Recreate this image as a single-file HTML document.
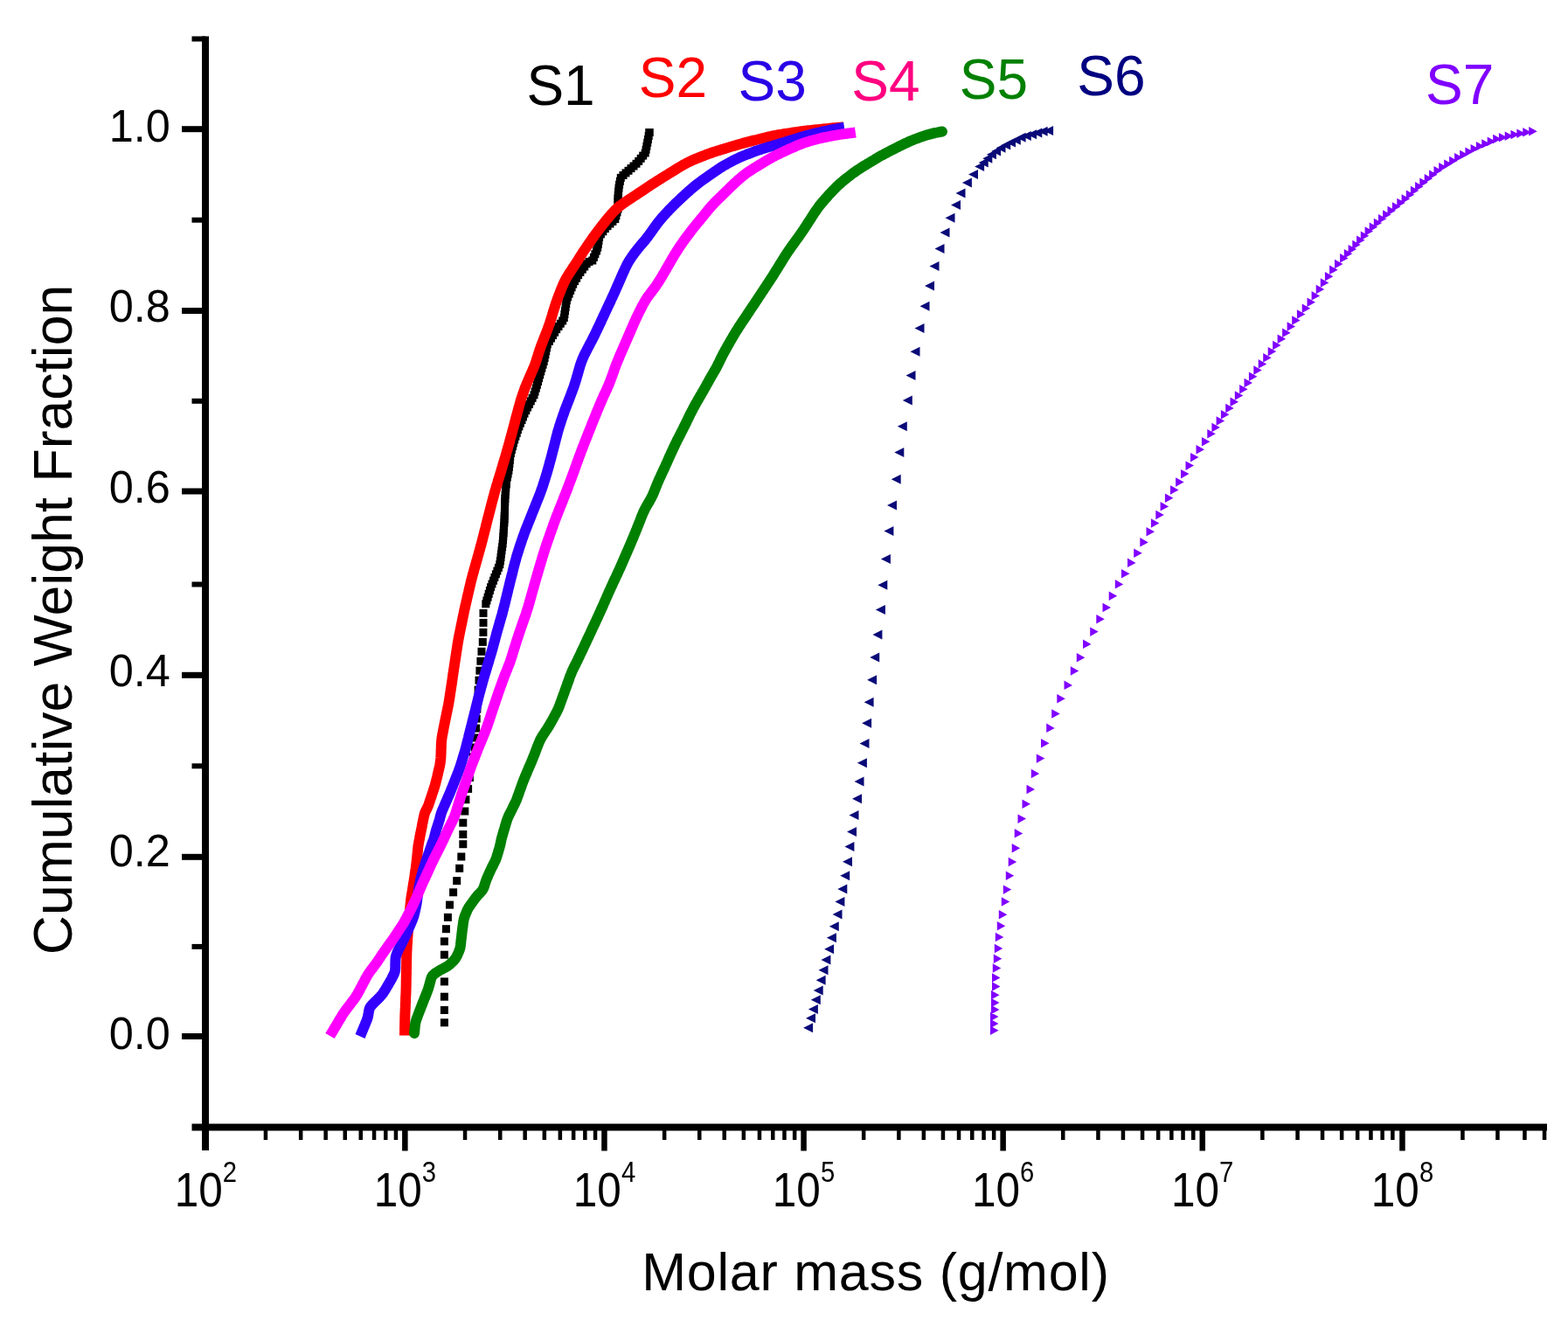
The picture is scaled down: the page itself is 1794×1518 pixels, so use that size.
<!DOCTYPE html>
<html><head><meta charset="utf-8"><title>Cumulative Weight Fraction vs Molar mass</title>
<style>html,body{margin:0;padding:0;background:#fff;}body{width:1794px;height:1518px;overflow:hidden;}svg{display:block;}</style>
</head><body>
<svg xmlns="http://www.w3.org/2000/svg" width="1794" height="1518" viewBox="0 0 1794 1518"><g fill="#000"><rect x="503.9" y="1165.3" width="9" height="9"/><rect x="503.9" y="1151.0" width="9" height="9"/><rect x="503.9" y="1135.7" width="9" height="9"/><rect x="503.9" y="1118.4" width="9" height="9"/><rect x="503.9" y="1103.0" width="9" height="9"/><rect x="503.9" y="1087.7" width="9" height="9"/><rect x="503.9" y="1072.4" width="9" height="9"/><rect x="505.9" y="1058.2" width="9" height="9"/><rect x="507.9" y="1044.9" width="9" height="9"/><rect x="510.0" y="1030.6" width="9" height="9"/><rect x="514.1" y="1016.3" width="9" height="9"/><rect x="518.2" y="1003.1" width="9" height="9"/><rect x="521.2" y="988.8" width="9" height="9"/><rect x="523.3" y="975.5" width="9" height="9"/><rect x="525.3" y="961.2" width="9" height="9"/><rect x="525.3" y="950.0" width="9" height="9"/><rect x="525.3" y="936.7" width="9" height="9"/><rect x="527.3" y="923.5" width="9" height="9"/><rect x="528.4" y="910.2" width="9" height="9"/><rect x="531.1" y="897.9" width="9" height="9"/><rect x="532.9" y="885.0" width="9" height="9"/><rect x="535.0" y="872.2" width="9" height="9"/><rect x="536.9" y="861.4" width="9" height="9"/><rect x="538.6" y="850.5" width="9" height="9"/><rect x="539.3" y="839.5" width="9" height="9"/><rect x="540.0" y="828.6" width="9" height="9"/><rect x="540.7" y="817.6" width="9" height="9"/><rect x="541.4" y="806.6" width="9" height="9"/><rect x="542.0" y="795.6" width="9" height="9"/><rect x="542.6" y="784.6" width="9" height="9"/><rect x="543.5" y="773.7" width="9" height="9"/><rect x="544.4" y="762.7" width="9" height="9"/><rect x="545.4" y="751.8" width="9" height="9"/><rect x="546.5" y="740.8" width="9" height="9"/><rect x="547.8" y="729.9" width="9" height="9"/><rect x="548.4" y="718.9" width="9" height="9"/><rect x="548.5" y="707.9" width="9" height="9"/><rect x="548.5" y="696.9" width="9" height="9"/><rect x="551.3" y="686.3" width="9" height="9"/><rect x="552.4" y="682.5" width="9" height="9"/><rect x="553.6" y="678.7" width="9" height="9"/><rect x="554.7" y="674.9" width="9" height="9"/><rect x="555.9" y="671.0" width="9" height="9"/><rect x="557.1" y="667.2" width="9" height="9"/><rect x="558.5" y="663.5" width="9" height="9"/><rect x="560.0" y="659.7" width="9" height="9"/><rect x="561.4" y="656.0" width="9" height="9"/><rect x="562.9" y="652.3" width="9" height="9"/><rect x="564.4" y="648.6" width="9" height="9"/><rect x="565.9" y="644.9" width="9" height="9"/><rect x="567.3" y="641.2" width="9" height="9"/><rect x="567.9" y="637.2" width="9" height="9"/><rect x="568.5" y="633.2" width="9" height="9"/><rect x="569.0" y="629.3" width="9" height="9"/><rect x="569.5" y="625.3" width="9" height="9"/><rect x="570.1" y="621.3" width="9" height="9"/><rect x="570.6" y="617.4" width="9" height="9"/><rect x="571.0" y="613.4" width="9" height="9"/><rect x="571.3" y="609.4" width="9" height="9"/><rect x="571.6" y="605.4" width="9" height="9"/><rect x="571.8" y="601.4" width="9" height="9"/><rect x="572.1" y="597.4" width="9" height="9"/><rect x="572.4" y="593.5" width="9" height="9"/><rect x="572.6" y="589.5" width="9" height="9"/><rect x="572.7" y="585.5" width="9" height="9"/><rect x="572.9" y="581.5" width="9" height="9"/><rect x="573.0" y="577.5" width="9" height="9"/><rect x="573.1" y="573.5" width="9" height="9"/><rect x="573.2" y="569.5" width="9" height="9"/><rect x="573.4" y="565.5" width="9" height="9"/><rect x="573.6" y="561.5" width="9" height="9"/><rect x="574.0" y="557.5" width="9" height="9"/><rect x="574.3" y="553.5" width="9" height="9"/><rect x="574.7" y="549.5" width="9" height="9"/><rect x="575.0" y="545.5" width="9" height="9"/><rect x="575.8" y="541.6" width="9" height="9"/><rect x="576.6" y="537.7" width="9" height="9"/><rect x="577.4" y="533.8" width="9" height="9"/><rect x="577.9" y="529.8" width="9" height="9"/><rect x="578.4" y="525.8" width="9" height="9"/><rect x="578.8" y="521.9" width="9" height="9"/><rect x="579.2" y="517.9" width="9" height="9"/><rect x="579.9" y="514.0" width="9" height="9"/><rect x="580.9" y="510.1" width="9" height="9"/><rect x="582.0" y="506.2" width="9" height="9"/><rect x="583.0" y="502.4" width="9" height="9"/><rect x="584.2" y="498.5" width="9" height="9"/><rect x="585.4" y="494.7" width="9" height="9"/><rect x="586.7" y="491.0" width="9" height="9"/><rect x="587.9" y="487.2" width="9" height="9"/><rect x="589.4" y="483.4" width="9" height="9"/><rect x="590.9" y="479.7" width="9" height="9"/><rect x="592.5" y="476.0" width="9" height="9"/><rect x="594.0" y="472.4" width="9" height="9"/><rect x="595.5" y="468.7" width="9" height="9"/><rect x="597.3" y="465.1" width="9" height="9"/><rect x="599.1" y="461.5" width="9" height="9"/><rect x="601.0" y="458.0" width="9" height="9"/><rect x="602.8" y="454.4" width="9" height="9"/><rect x="604.6" y="450.9" width="9" height="9"/><rect x="606.5" y="447.3" width="9" height="9"/><rect x="607.6" y="443.5" width="9" height="9"/><rect x="608.8" y="439.6" width="9" height="9"/><rect x="609.9" y="435.8" width="9" height="9"/><rect x="611.0" y="432.0" width="9" height="9"/><rect x="612.1" y="428.1" width="9" height="9"/><rect x="613.2" y="424.3" width="9" height="9"/><rect x="614.3" y="420.4" width="9" height="9"/><rect x="615.4" y="416.6" width="9" height="9"/><rect x="616.6" y="412.7" width="9" height="9"/><rect x="617.7" y="408.9" width="9" height="9"/><rect x="618.6" y="405.0" width="9" height="9"/><rect x="619.4" y="401.1" width="9" height="9"/><rect x="620.2" y="397.2" width="9" height="9"/><rect x="621.0" y="393.3" width="9" height="9"/><rect x="621.8" y="389.4" width="9" height="9"/><rect x="623.9" y="385.9" width="9" height="9"/><rect x="626.0" y="382.5" width="9" height="9"/><rect x="628.0" y="379.1" width="9" height="9"/><rect x="630.1" y="375.7" width="9" height="9"/><rect x="632.2" y="372.2" width="9" height="9"/><rect x="634.5" y="369.0" width="9" height="9"/><rect x="636.8" y="365.7" width="9" height="9"/><rect x="639.2" y="362.5" width="9" height="9"/><rect x="640.8" y="359.0" width="9" height="9"/><rect x="641.4" y="355.0" width="9" height="9"/><rect x="642.0" y="351.1" width="9" height="9"/><rect x="642.6" y="347.1" width="9" height="9"/><rect x="643.2" y="343.2" width="9" height="9"/><rect x="643.8" y="339.2" width="9" height="9"/><rect x="645.1" y="335.4" width="9" height="9"/><rect x="646.6" y="331.7" width="9" height="9"/><rect x="648.1" y="328.0" width="9" height="9"/><rect x="649.6" y="324.3" width="9" height="9"/><rect x="651.2" y="320.6" width="9" height="9"/><rect x="653.1" y="317.1" width="9" height="9"/><rect x="655.1" y="313.7" width="9" height="9"/><rect x="657.1" y="310.2" width="9" height="9"/><rect x="659.4" y="306.9" width="9" height="9"/><rect x="661.8" y="303.7" width="9" height="9"/><rect x="664.2" y="300.5" width="9" height="9"/><rect x="666.6" y="297.3" width="9" height="9"/><rect x="669.5" y="294.9" width="9" height="9"/><rect x="673.3" y="293.5" width="9" height="9"/><rect x="674.9" y="289.9" width="9" height="9"/><rect x="676.4" y="286.2" width="9" height="9"/><rect x="678.0" y="282.5" width="9" height="9"/><rect x="679.2" y="278.7" width="9" height="9"/><rect x="679.8" y="274.8" width="9" height="9"/><rect x="680.5" y="270.8" width="9" height="9"/><rect x="681.1" y="266.9" width="9" height="9"/><rect x="682.9" y="263.4" width="9" height="9"/><rect x="685.3" y="260.3" width="9" height="9"/><rect x="687.8" y="257.1" width="9" height="9"/><rect x="690.5" y="254.2" width="9" height="9"/><rect x="693.5" y="251.5" width="9" height="9"/><rect x="696.4" y="248.9" width="9" height="9"/><rect x="699.3" y="246.1" width="9" height="9"/><rect x="700.4" y="242.3" width="9" height="9"/><rect x="701.5" y="238.4" width="9" height="9"/><rect x="702.5" y="234.6" width="9" height="9"/><rect x="702.5" y="230.6" width="9" height="9"/><rect x="702.5" y="226.6" width="9" height="9"/><rect x="702.5" y="222.6" width="9" height="9"/><rect x="702.7" y="218.6" width="9" height="9"/><rect x="703.1" y="214.6" width="9" height="9"/><rect x="703.5" y="210.6" width="9" height="9"/><rect x="704.1" y="206.7" width="9" height="9"/><rect x="704.9" y="202.8" width="9" height="9"/><rect x="705.8" y="198.9" width="9" height="9"/><rect x="708.5" y="196.0" width="9" height="9"/><rect x="711.5" y="193.4" width="9" height="9"/><rect x="714.5" y="190.8" width="9" height="9"/><rect x="717.5" y="188.1" width="9" height="9"/><rect x="720.5" y="185.5" width="9" height="9"/><rect x="723.5" y="182.8" width="9" height="9"/><rect x="726.2" y="179.9" width="9" height="9"/><rect x="728.7" y="176.8" width="9" height="9"/><rect x="731.2" y="173.6" width="9" height="9"/><rect x="733.7" y="170.5" width="9" height="9"/><rect x="734.6" y="166.7" width="9" height="9"/><rect x="735.4" y="162.7" width="9" height="9"/><rect x="736.2" y="158.8" width="9" height="9"/><rect x="736.9" y="154.9" width="9" height="9"/><rect x="737.7" y="151.0" width="9" height="9"/><rect x="738.5" y="147.0" width="9" height="9"/><rect x="738.5" y="147.0" width="9" height="9"/></g><polyline points="463.0,1184.5 463.0,1182.5 463.1,1180.5 463.1,1178.5 463.1,1176.5 463.1,1174.5 463.2,1172.5 463.2,1170.5 463.2,1168.5 463.3,1166.5 463.3,1164.5 463.4,1162.5 463.4,1160.5 463.5,1158.5 463.6,1156.5 463.7,1154.5 463.8,1152.5 463.8,1150.5 463.9,1148.5 464.0,1146.5 464.1,1144.5 464.1,1142.5 464.2,1140.5 464.3,1138.5 464.4,1136.5 464.5,1134.5 464.5,1132.5 464.6,1130.5 464.6,1128.5 464.7,1126.5 464.7,1124.5 464.7,1122.5 464.8,1120.5 464.8,1118.5 464.8,1116.5 464.9,1114.5 464.9,1112.5 464.9,1110.5 465.0,1108.5 465.0,1106.5 465.1,1104.5 465.1,1102.5 465.1,1100.5 465.2,1098.5 465.2,1096.5 465.2,1094.5 465.3,1092.5 465.3,1090.5 465.4,1088.5 465.5,1086.5 465.6,1084.5 465.7,1082.5 465.8,1080.5 466.0,1078.6 466.1,1076.6 466.2,1074.6 466.3,1072.6 466.5,1070.6 466.6,1068.6 466.8,1066.6 467.0,1064.6 467.1,1062.6 467.3,1060.6 467.5,1058.6 467.7,1056.6 467.8,1054.6 468.0,1052.6 468.2,1050.6 468.4,1048.7 468.5,1046.7 468.7,1044.7 468.9,1042.7 469.1,1040.7 469.2,1038.7 469.4,1036.7 469.6,1034.7 469.8,1032.7 470.0,1030.7 470.2,1028.7 470.5,1026.8 470.8,1024.8 471.1,1022.8 471.5,1020.8 471.8,1018.9 472.1,1016.9 472.4,1014.9 472.7,1012.9 473.0,1011.0 473.4,1009.0 473.7,1007.0 474.0,1005.0 474.3,1003.1 474.6,1001.1 474.8,999.1 475.1,997.1 475.4,995.1 475.7,993.2 475.9,991.2 476.2,989.2 476.5,987.2 476.7,985.2 476.9,983.2 477.1,981.2 477.3,979.3 477.5,977.3 477.7,975.3 477.9,973.3 478.1,971.3 478.3,969.3 478.5,967.3 478.9,965.4 479.2,963.4 479.6,961.4 480.0,959.5 480.3,957.5 480.7,955.5 481.1,953.6 481.5,951.6 481.9,949.6 482.3,947.7 482.7,945.7 483.0,943.8 483.4,941.8 483.8,939.8 484.2,937.9 484.6,935.9 485.0,934.0 485.5,932.0 486.0,930.1 486.8,928.3 487.7,926.5 488.6,924.7 489.4,922.9 490.2,921.1 490.8,919.2 491.5,917.3 492.1,915.4 492.7,913.5 493.4,911.6 494.0,909.7 494.6,907.8 495.3,905.9 495.9,904.0 496.5,902.1 497.1,900.2 497.7,898.3 498.2,896.4 498.7,894.4 499.2,892.5 499.7,890.5 500.2,888.6 500.6,886.7 501.1,884.7 501.5,882.8 502.0,880.8 502.4,878.9 502.9,876.9 503.3,875.0 503.6,873.0 503.9,871.0 504.1,869.0 504.3,867.1 504.4,865.1 504.5,863.1 504.6,861.1 504.6,859.1 504.7,857.1 504.8,855.1 504.8,853.1 504.9,851.1 505.0,849.1 505.2,847.1 505.4,845.1 505.7,843.1 506.0,841.2 506.4,839.2 506.8,837.2 507.2,835.3 507.5,833.3 507.9,831.4 508.3,829.4 508.7,827.4 509.1,825.5 509.5,823.5 509.9,821.6 510.3,819.6 510.7,817.6 511.1,815.7 511.5,813.7 511.9,811.8 512.3,809.8 512.7,807.8 513.1,805.9 513.4,803.9 513.8,801.9 514.1,800.0 514.4,798.0 514.7,796.0 515.0,794.0 515.3,792.1 515.6,790.1 515.9,788.1 516.2,786.1 516.5,784.1 516.8,782.2 517.1,780.2 517.4,778.2 517.7,776.2 517.9,774.2 518.2,772.3 518.5,770.3 518.8,768.3 519.1,766.3 519.4,764.4 519.7,762.4 520.0,760.4 520.3,758.4 520.6,756.4 520.9,754.5 521.2,752.5 521.5,750.5 521.8,748.5 522.1,746.6 522.4,744.6 522.7,742.6 523.0,740.6 523.3,738.6 523.6,736.7 523.9,734.7 524.3,732.7 524.6,730.8 525.0,728.8 525.4,726.8 525.8,724.9 526.2,722.9 526.6,721.0 527.0,719.0 527.4,717.0 527.8,715.1 528.2,713.1 528.6,711.2 529.0,709.2 529.4,707.2 529.8,705.3 530.2,703.3 530.6,701.4 531.0,699.4 531.4,697.5 531.9,695.5 532.3,693.6 532.7,691.6 533.2,689.7 533.6,687.7 534.1,685.8 534.5,683.8 535.0,681.9 535.4,679.9 535.9,678.0 536.3,676.0 536.8,674.1 537.2,672.1 537.7,670.2 538.2,668.2 538.6,666.3 539.1,664.3 539.6,662.4 540.1,660.5 540.6,658.5 541.1,656.6 541.7,654.7 542.2,652.7 542.7,650.8 543.3,648.9 543.8,647.0 544.4,645.0 544.9,643.1 545.4,641.2 546.0,639.3 546.5,637.3 547.1,635.4 547.6,633.5 548.1,631.6 548.7,629.6 549.2,627.7 549.7,625.8 550.3,623.8 550.8,621.9 551.3,620.0 551.8,618.1 552.3,616.1 552.8,614.2 553.3,612.2 553.8,610.3 554.3,608.4 554.8,606.4 555.3,604.5 555.8,602.5 556.2,600.6 556.7,598.7 557.2,596.7 557.7,594.8 558.2,592.8 558.7,590.9 559.2,589.0 559.7,587.0 560.2,585.1 560.7,583.2 561.2,581.2 561.7,579.3 562.2,577.4 562.7,575.4 563.2,573.5 563.7,571.6 564.2,569.6 564.8,567.7 565.3,565.8 565.8,563.8 566.3,561.9 566.9,560.0 567.5,558.1 568.0,556.1 568.6,554.2 569.2,552.3 569.7,550.4 570.3,548.5 570.9,546.6 571.5,544.7 572.1,542.8 572.7,540.8 573.3,538.9 573.8,537.0 574.4,535.1 575.0,533.2 575.5,531.3 576.1,529.3 576.7,527.4 577.2,525.5 577.8,523.6 578.4,521.7 578.9,519.7 579.5,517.8 580.0,515.9 580.6,514.0 581.1,512.1 581.7,510.1 582.2,508.2 582.8,506.3 583.3,504.4 583.8,502.4 584.3,500.5 584.9,498.6 585.4,496.6 585.9,494.7 586.4,492.8 586.9,490.8 587.5,488.9 588.0,487.0 588.5,485.0 589.0,483.1 589.5,481.2 590.0,479.2 590.5,477.3 591.1,475.4 591.6,473.4 592.1,471.5 592.6,469.6 593.1,467.6 593.6,465.7 594.2,463.8 594.7,461.9 595.3,459.9 595.8,458.0 596.4,456.1 597.0,454.2 597.7,452.3 598.3,450.4 599.0,448.5 599.6,446.7 600.3,444.8 601.0,442.9 601.8,441.1 602.5,439.2 603.3,437.4 604.1,435.5 604.9,433.7 605.7,431.9 606.5,430.0 607.3,428.2 608.1,426.4 608.9,424.6 609.7,422.7 610.5,420.9 611.3,419.0 612.0,417.2 612.7,415.3 613.3,413.4 613.9,411.5 614.5,409.6 615.1,407.7 615.7,405.8 616.3,403.9 616.9,402.0 617.5,400.1 618.2,398.2 618.9,396.3 619.5,394.5 620.3,392.6 621.0,390.7 621.7,388.9 622.4,387.0 623.2,385.1 623.9,383.3 624.7,381.4 625.4,379.6 626.1,377.7 626.8,375.8 627.5,373.9 628.1,372.1 628.8,370.2 629.4,368.3 630.0,366.4 630.6,364.5 631.2,362.6 631.8,360.6 632.3,358.7 632.9,356.8 633.5,354.9 634.1,353.0 634.7,351.1 635.3,349.2 635.9,347.3 636.6,345.4 637.3,343.5 637.9,341.6 638.6,339.8 639.3,337.9 640.1,336.0 640.8,334.2 641.5,332.3 642.3,330.4 643.0,328.6 643.8,326.8 644.6,324.9 645.4,323.1 646.3,321.3 647.2,319.6 648.2,317.9 649.2,316.1 650.3,314.4 651.3,312.8 652.4,311.1 653.5,309.4 654.6,307.8 655.7,306.1 656.8,304.4 657.9,302.7 659.0,301.1 660.1,299.4 661.2,297.7 662.2,296.0 663.3,294.3 664.4,292.6 665.5,290.9 666.5,289.3 667.6,287.6 668.7,285.9 669.8,284.3 671.0,282.6 672.1,280.9 673.2,279.3 674.4,277.7 675.5,276.0 676.7,274.4 677.8,272.7 679.0,271.1 680.1,269.5 681.3,267.9 682.5,266.3 683.7,264.7 684.9,263.1 686.1,261.5 687.3,259.9 688.6,258.3 689.8,256.8 691.0,255.2 692.3,253.6 693.5,252.1 694.8,250.5 696.1,249.0 697.4,247.4 698.7,245.9 700.0,244.4 701.3,243.0 702.7,241.5 704.1,240.1 705.5,238.7 707.0,237.4 708.5,236.1 710.1,234.9 711.7,233.7 713.3,232.6 714.9,231.4 716.6,230.3 718.2,229.2 719.9,228.1 721.6,227.0 723.3,225.9 724.9,224.8 726.6,223.7 728.3,222.6 729.9,221.5 731.6,220.4 733.3,219.3 734.9,218.2 736.6,217.1 738.2,216.0 739.9,214.8 741.6,213.7 743.2,212.6 744.9,211.5 746.6,210.4 748.3,209.4 750.0,208.3 751.6,207.2 753.3,206.1 755.0,205.1 756.7,204.0 758.4,202.9 760.1,201.9 761.8,200.8 763.5,199.8 765.2,198.7 766.9,197.7 768.6,196.6 770.3,195.6 772.0,194.5 773.7,193.5 775.4,192.4 777.1,191.4 778.8,190.4 780.6,189.3 782.3,188.4 784.0,187.4 785.8,186.4 787.6,185.5 789.4,184.7 791.2,183.8 793.0,183.0 794.8,182.2 796.7,181.5 798.5,180.7 800.4,180.0 802.2,179.2 804.1,178.5 806.0,177.8 807.8,177.0 809.7,176.3 811.6,175.7 813.5,175.0 815.3,174.3 817.2,173.7 819.1,173.1 821.0,172.5 823.0,171.9 824.9,171.3 826.8,170.7 828.7,170.1 830.6,169.6 832.5,169.0 834.4,168.4 836.4,167.8 838.3,167.3 840.2,166.7 842.1,166.1 844.0,165.6 845.9,165.0 847.9,164.5 849.8,163.9 851.7,163.4 853.7,162.9 855.6,162.4 857.5,161.9 859.5,161.4 861.4,160.9 863.4,160.4 865.3,160.0 867.2,159.5 869.2,159.0 871.1,158.5 873.1,158.0 875.0,157.5 876.9,157.1 878.9,156.6 880.8,156.2 882.8,155.7 884.7,155.3 886.7,155.0 888.7,154.6 890.6,154.2 892.6,153.9 894.6,153.6 896.6,153.3 898.5,153.0 900.5,152.7 902.5,152.4 904.5,152.1 906.4,151.8 908.4,151.5 910.4,151.2 912.4,150.9 914.4,150.6 916.3,150.3 918.3,150.1 920.3,149.8 922.3,149.6 924.3,149.3 926.3,149.1 928.2,148.9 930.2,148.7 932.2,148.5 934.2,148.3 936.2,148.1 938.2,147.9 940.2,147.7 942.2,147.5 944.2,147.3 946.2,147.1 948.1,146.9 950.1,146.7 952.1,146.5 954.1,146.3 956.1,146.2 958.0,146.0 960.0,145.8 961.9,145.6 963.7,145.4 965.0,145.3" fill="none" stroke="#ff0000" stroke-width="12" stroke-linejoin="round" stroke-linecap="butt"/><polyline points="412.0,1185.5 412.8,1183.7 413.5,1181.8 414.3,1180.0 415.1,1178.1 415.8,1176.3 416.6,1174.4 417.4,1172.6 418.1,1170.7 418.9,1168.9 419.7,1167.0 420.3,1165.2 420.9,1163.2 421.3,1161.3 421.6,1159.3 421.9,1157.4 422.3,1155.4 422.8,1153.6 423.7,1151.9 424.9,1150.3 426.2,1148.9 427.6,1147.5 429.0,1146.1 430.4,1144.7 431.9,1143.2 433.3,1141.8 434.7,1140.4 436.0,1138.9 437.3,1137.4 438.5,1135.8 439.5,1134.1 440.6,1132.4 441.6,1130.7 442.6,1129.0 443.7,1127.3 444.7,1125.5 445.7,1123.8 446.7,1122.1 447.7,1120.3 448.6,1118.6 449.5,1116.8 450.4,1115.0 451.2,1113.2 451.8,1111.3 452.1,1109.4 452.3,1107.4 452.3,1105.4 452.3,1103.4 452.4,1101.4 452.4,1099.4 452.5,1097.4 452.7,1095.5 453.1,1093.5 453.7,1091.6 454.4,1089.8 455.3,1088.0 456.1,1086.2 457.0,1084.4 457.9,1082.6 458.9,1080.8 459.8,1079.0 460.7,1077.3 461.5,1075.5 462.4,1073.7 463.2,1071.8 464.1,1070.0 464.9,1068.2 465.7,1066.4 466.6,1064.6 467.4,1062.7 468.2,1060.9 469.0,1059.1 469.8,1057.2 470.6,1055.4 471.3,1053.6 472.1,1051.7 472.8,1049.8 473.4,1047.9 473.9,1046.0 474.4,1044.1 474.8,1042.1 475.3,1040.2 475.7,1038.2 476.1,1036.3 476.5,1034.3 476.8,1032.3 477.1,1030.3 477.3,1028.4 477.6,1026.4 477.9,1024.4 478.1,1022.4 478.4,1020.4 478.8,1018.5 479.1,1016.5 479.5,1014.5 479.9,1012.6 480.3,1010.6 480.7,1008.6 481.0,1006.7 481.5,1004.7 482.0,1002.8 482.5,1000.9 483.1,999.0 483.6,997.0 484.2,995.1 484.8,993.2 485.4,991.3 486.1,989.4 486.7,987.5 487.3,985.6 488.0,983.7 488.6,981.8 489.2,979.9 489.9,978.0 490.5,976.1 491.2,974.2 491.8,972.4 492.4,970.5 493.1,968.6 493.7,966.7 494.4,964.8 495.2,962.9 495.9,961.1 496.5,959.2 497.1,957.3 497.5,955.4 498.0,953.4 498.5,951.5 499.0,949.6 499.6,947.6 500.3,945.7 500.9,943.8 501.5,941.9 502.1,940.0 502.7,938.1 503.2,936.2 503.7,934.3 504.3,932.3 504.8,930.4 505.5,928.5 506.2,926.7 507.0,924.9 507.8,923.0 508.6,921.2 509.4,919.3 510.2,917.5 511.0,915.7 511.8,913.8 512.6,912.0 513.4,910.2 514.2,908.3 515.0,906.5 515.7,904.6 516.5,902.8 517.2,900.9 518.0,899.1 518.7,897.2 519.4,895.4 520.2,893.5 520.9,891.6 521.7,889.8 522.4,887.9 523.1,886.1 523.9,884.2 524.6,882.3 525.3,880.5 525.9,878.6 526.6,876.7 527.2,874.8 527.8,872.9 528.4,871.0 529.0,869.1 529.5,867.1 530.1,865.2 530.7,863.3 531.3,861.4 531.9,859.5 532.4,857.6 532.9,855.6 533.4,853.7 533.9,851.8 534.4,849.8 534.9,847.9 535.4,845.9 535.9,844.0 536.3,842.1 536.8,840.1 537.3,838.2 537.8,836.2 538.3,834.3 538.8,832.4 539.3,830.4 539.8,828.5 540.3,826.5 540.7,824.6 541.2,822.7 541.7,820.7 542.2,818.8 542.7,816.8 543.2,814.9 543.7,813.0 544.2,811.0 544.6,809.1 545.1,807.1 545.6,805.2 546.1,803.3 546.6,801.3 547.0,799.4 547.5,797.4 548.0,795.5 548.5,793.6 549.1,791.6 549.6,789.7 550.1,787.8 550.6,785.8 551.2,783.9 551.7,782.0 552.2,780.1 552.8,778.1 553.3,776.2 553.9,774.3 554.4,772.4 555.0,770.5 555.6,768.6 556.2,766.6 556.8,764.7 557.3,762.8 557.9,760.9 558.5,759.0 559.1,757.1 559.6,755.1 560.2,753.2 560.8,751.3 561.3,749.4 561.9,747.5 562.5,745.6 563.0,743.6 563.6,741.7 564.1,739.8 564.6,737.9 565.1,735.9 565.7,734.0 566.2,732.1 566.7,730.1 567.2,728.2 567.7,726.3 568.3,724.3 568.8,722.4 569.3,720.5 569.9,718.6 570.4,716.6 571.0,714.7 571.5,712.8 572.1,710.9 572.6,708.9 573.2,707.0 573.7,705.1 574.3,703.2 574.8,701.2 575.3,699.3 575.8,697.4 576.3,695.4 576.8,693.5 577.3,691.6 577.8,689.6 578.2,687.7 578.7,685.7 579.2,683.8 579.7,681.8 580.1,679.9 580.6,678.0 581.1,676.0 581.5,674.1 582.0,672.1 582.5,670.2 583.0,668.2 583.4,666.3 583.9,664.4 584.4,662.4 584.9,660.5 585.4,658.5 585.9,656.6 586.4,654.7 586.8,652.7 587.3,650.8 587.8,648.8 588.3,646.9 588.8,645.0 589.3,643.0 589.9,641.1 590.4,639.2 590.9,637.3 591.5,635.3 592.1,633.4 592.7,631.5 593.3,629.6 593.9,627.7 594.5,625.8 595.1,623.9 595.8,622.0 596.4,620.1 597.0,618.2 597.7,616.3 598.4,614.4 599.0,612.6 599.7,610.7 600.4,608.8 601.1,606.9 601.8,605.1 602.6,603.2 603.3,601.4 604.0,599.5 604.8,597.6 605.5,595.8 606.3,593.9 607.0,592.1 607.8,590.2 608.5,588.4 609.2,586.5 610.0,584.6 610.7,582.8 611.5,580.9 612.2,579.1 613.0,577.2 613.7,575.4 614.4,573.5 615.2,571.6 615.9,569.8 616.7,567.9 617.4,566.1 618.1,564.2 618.8,562.3 619.5,560.4 620.1,558.6 620.8,556.7 621.4,554.8 622.0,552.9 622.6,551.0 623.2,549.1 623.8,547.1 624.4,545.2 625.0,543.3 625.6,541.4 626.1,539.5 626.7,537.6 627.2,535.6 627.8,533.7 628.3,531.8 628.8,529.9 629.3,527.9 629.9,526.0 630.4,524.1 630.9,522.1 631.4,520.2 631.9,518.3 632.4,516.3 632.9,514.4 633.4,512.5 633.9,510.5 634.4,508.6 634.9,506.6 635.4,504.7 635.9,502.8 636.4,500.8 636.9,498.9 637.4,497.0 637.9,495.0 638.4,493.1 639.0,491.2 639.6,489.3 640.1,487.4 640.8,485.4 641.4,483.5 642.0,481.6 642.6,479.8 643.3,477.9 643.9,476.0 644.6,474.1 645.3,472.2 645.9,470.3 646.6,468.4 647.3,466.6 648.1,464.7 648.8,462.8 649.5,461.0 650.2,459.1 651.0,457.3 651.7,455.4 652.4,453.5 653.1,451.7 653.8,449.8 654.5,447.9 655.2,446.0 655.9,444.2 656.6,442.3 657.2,440.4 657.8,438.5 658.4,436.6 659.0,434.7 659.6,432.7 660.1,430.8 660.7,428.9 661.2,427.0 661.8,425.1 662.3,423.1 662.9,421.2 663.4,419.3 664.0,417.4 664.7,415.5 665.3,413.6 666.0,411.8 666.8,409.9 667.6,408.1 668.4,406.3 669.3,404.5 670.2,402.7 671.1,401.0 672.0,399.2 673.0,397.4 673.9,395.6 674.8,393.9 675.7,392.1 676.7,390.3 677.6,388.6 678.5,386.8 679.4,385.0 680.3,383.2 681.2,381.4 682.0,379.6 682.9,377.8 683.7,376.0 684.6,374.2 685.5,372.4 686.3,370.6 687.2,368.8 688.0,366.9 688.8,365.1 689.7,363.3 690.5,361.5 691.4,359.7 692.2,357.9 693.1,356.1 693.9,354.3 694.8,352.4 695.6,350.6 696.5,348.8 697.3,347.0 698.2,345.2 699.0,343.4 699.8,341.6 700.7,339.8 701.5,337.9 702.4,336.1 703.2,334.3 704.0,332.5 704.8,330.6 705.6,328.8 706.4,327.0 707.2,325.2 708.0,323.3 708.8,321.5 709.6,319.7 710.4,317.8 711.2,316.0 712.0,314.2 712.8,312.3 713.7,310.5 714.5,308.7 715.3,306.9 716.2,305.1 717.1,303.3 718.0,301.5 719.0,299.8 720.0,298.1 721.1,296.4 722.2,294.8 723.3,293.1 724.5,291.5 725.6,289.9 726.8,288.3 728.1,286.7 729.3,285.1 730.6,283.6 731.8,282.1 733.1,280.5 734.4,279.0 735.7,277.5 737.0,276.0 738.3,274.5 739.5,272.9 740.8,271.3 742.0,269.7 743.1,268.1 744.3,266.5 745.4,264.9 746.6,263.2 747.7,261.6 748.9,260.0 750.1,258.3 751.3,256.7 752.5,255.1 753.7,253.6 755.0,252.0 756.2,250.5 757.5,249.0 758.8,247.5 760.2,246.0 761.5,244.5 762.9,243.0 764.2,241.6 765.6,240.1 767.0,238.7 768.4,237.3 769.8,235.8 771.2,234.4 772.7,233.0 774.1,231.6 775.5,230.3 777.0,228.9 778.4,227.5 779.9,226.1 781.4,224.8 782.9,223.4 784.3,222.1 785.8,220.8 787.3,219.4 788.8,218.1 790.3,216.8 791.8,215.5 793.4,214.2 794.9,212.9 796.4,211.6 798.0,210.4 799.6,209.2 801.2,208.0 802.8,206.8 804.4,205.6 806.0,204.5 807.7,203.3 809.3,202.2 810.9,201.0 812.6,199.9 814.2,198.8 815.9,197.6 817.5,196.5 819.2,195.3 820.8,194.2 822.5,193.1 824.1,192.0 825.8,191.0 827.5,189.9 829.2,188.9 831.0,187.9 832.7,187.0 834.5,186.0 836.3,185.1 838.0,184.1 839.8,183.2 841.6,182.3 843.4,181.5 845.2,180.6 847.0,179.8 848.8,179.0 850.7,178.2 852.5,177.5 854.4,176.7 856.3,176.0 858.1,175.3 860.0,174.6 861.9,173.9 863.7,173.2 865.6,172.5 867.5,171.9 869.4,171.3 871.3,170.6 873.2,170.0 875.1,169.5 877.0,168.9 879.0,168.3 880.9,167.7 882.8,167.2 884.7,166.6 886.6,166.0 888.6,165.5 890.5,164.9 892.4,164.3 894.3,163.7 896.2,163.2 898.1,162.6 900.0,162.0 901.9,161.4 903.9,160.8 905.8,160.2 907.7,159.6 909.6,159.0 911.5,158.4 913.4,157.8 915.3,157.3 917.2,156.7 919.2,156.1 921.1,155.6 923.0,155.1 924.9,154.6 926.9,154.1 928.8,153.6 930.8,153.1 932.7,152.6 934.6,152.1 936.6,151.7 938.5,151.2 940.5,150.8 942.4,150.3 944.4,149.9 946.3,149.5 948.3,149.0 950.2,148.6 952.2,148.3 954.2,147.9 956.1,147.5 958.1,147.2 960.1,146.8 962.0,146.5 964.0,146.1 966.0,145.8" fill="none" stroke="#3300ff" stroke-width="12" stroke-linejoin="round" stroke-linecap="butt"/><polyline points="377.5,1185.0 378.5,1183.3 379.5,1181.6 380.6,1179.8 381.6,1178.1 382.6,1176.4 383.6,1174.7 384.7,1173.0 385.7,1171.2 386.7,1169.5 387.7,1167.8 388.7,1166.1 389.8,1164.4 390.8,1162.7 391.8,1160.9 392.9,1159.3 394.1,1157.6 395.2,1156.0 396.4,1154.4 397.6,1152.8 398.9,1151.2 400.1,1149.6 401.3,1148.0 402.5,1146.4 403.7,1144.8 404.9,1143.3 406.1,1141.6 407.2,1140.0 408.3,1138.3 409.3,1136.6 410.2,1134.8 411.2,1133.1 412.1,1131.3 413.0,1129.5 414.0,1127.8 414.9,1126.0 415.8,1124.2 416.8,1122.5 417.7,1120.7 418.7,1118.9 419.6,1117.2 420.6,1115.5 421.7,1113.8 422.8,1112.1 424.0,1110.5 425.2,1108.9 426.4,1107.3 427.6,1105.7 428.8,1104.1 430.0,1102.5 431.2,1100.9 432.3,1099.2 433.4,1097.6 434.5,1095.9 435.6,1094.2 436.7,1092.6 437.8,1090.9 439.0,1089.3 440.1,1087.6 441.3,1086.0 442.4,1084.4 443.6,1082.7 444.8,1081.1 445.9,1079.5 447.1,1077.9 448.3,1076.2 449.4,1074.6 450.6,1073.0 451.7,1071.3 452.8,1069.7 453.9,1068.0 455.0,1066.3 456.1,1064.7 457.2,1063.0 458.3,1061.3 459.4,1059.7 460.5,1058.0 461.6,1056.3 462.6,1054.5 463.5,1052.8 464.5,1051.0 465.4,1049.3 466.3,1047.5 467.3,1045.7 468.2,1044.0 469.1,1042.2 470.0,1040.4 470.9,1038.6 471.8,1036.8 472.6,1035.0 473.5,1033.2 474.3,1031.4 475.2,1029.6 476.0,1027.7 476.8,1025.9 477.7,1024.1 478.5,1022.3 479.2,1020.4 480.0,1018.6 480.8,1016.7 481.6,1014.9 482.4,1013.1 483.2,1011.2 484.0,1009.4 484.8,1007.6 485.7,1005.8 486.5,1004.0 487.3,1002.1 488.2,1000.3 489.0,998.5 489.8,996.7 490.7,994.9 491.5,993.1 492.3,991.2 493.2,989.4 494.0,987.6 494.9,985.8 495.7,984.0 496.6,982.2 497.5,980.4 498.4,978.6 499.3,976.8 500.2,975.1 501.1,973.3 502.0,971.5 502.9,969.7 503.8,967.9 504.7,966.1 505.6,964.3 506.4,962.5 507.3,960.7 508.1,958.9 509.0,957.1 509.8,955.3 510.7,953.4 511.5,951.6 512.3,949.8 513.2,948.0 514.1,946.2 515.0,944.4 515.9,942.6 516.8,940.9 517.7,939.1 518.6,937.3 519.4,935.5 520.1,933.6 520.7,931.7 521.4,929.8 522.0,927.9 522.6,926.0 523.2,924.1 523.8,922.2 524.4,920.3 525.0,918.4 525.6,916.5 526.2,914.6 526.8,912.7 527.4,910.8 528.0,908.8 528.7,906.9 529.3,905.0 529.9,903.2 530.6,901.3 531.2,899.4 531.9,897.5 532.6,895.6 533.2,893.7 533.9,891.8 534.6,889.9 535.2,888.1 535.9,886.2 536.5,884.3 537.2,882.4 537.9,880.5 538.5,878.6 539.2,876.7 539.9,874.9 540.6,873.0 541.3,871.1 542.1,869.3 542.8,867.4 543.5,865.5 544.2,863.7 545.0,861.8 545.7,859.9 546.4,858.1 547.1,856.2 547.9,854.4 548.6,852.5 549.4,850.7 550.2,848.8 550.9,847.0 551.7,845.1 552.5,843.3 553.2,841.4 554.0,839.6 554.8,837.7 555.5,835.9 556.2,834.0 556.9,832.1 557.6,830.2 558.2,828.4 558.9,826.5 559.5,824.6 560.1,822.7 560.8,820.8 561.4,818.9 562.0,817.0 562.6,815.1 563.3,813.2 563.9,811.3 564.5,809.4 565.2,807.5 565.8,805.6 566.5,803.7 567.1,801.8 567.7,799.9 568.4,798.0 569.0,796.1 569.6,794.2 570.3,792.3 571.0,790.4 571.6,788.6 572.3,786.7 573.0,784.8 573.7,782.9 574.4,781.0 575.0,779.1 575.7,777.3 576.4,775.4 577.1,773.5 577.8,771.7 578.6,769.8 579.3,767.9 580.1,766.1 580.8,764.2 581.5,762.4 582.3,760.5 583.0,758.6 583.7,756.8 584.3,754.9 584.9,753.0 585.6,751.1 586.1,749.2 586.7,747.2 587.3,745.3 587.9,743.4 588.5,741.5 589.1,739.6 589.7,737.7 590.3,735.8 590.9,733.9 591.5,732.0 592.1,730.1 592.8,728.2 593.4,726.3 594.0,724.4 594.7,722.5 595.3,720.6 596.0,718.7 596.6,716.8 597.3,714.9 597.9,713.0 598.6,711.2 599.3,709.3 599.9,707.4 600.6,705.5 601.3,703.6 601.9,701.7 602.5,699.8 603.1,697.9 603.7,696.0 604.3,694.1 604.8,692.2 605.4,690.3 605.9,688.3 606.5,686.4 607.0,684.5 607.6,682.6 608.1,680.6 608.6,678.7 609.2,676.8 609.7,674.8 610.3,672.9 610.8,671.0 611.3,669.1 611.9,667.1 612.4,665.2 613.0,663.3 613.5,661.4 614.1,659.5 614.7,657.5 615.2,655.6 615.8,653.7 616.3,651.8 616.9,649.9 617.5,647.9 618.1,646.0 618.6,644.1 619.2,642.2 619.8,640.3 620.3,638.4 620.9,636.5 621.5,634.5 622.1,632.6 622.7,630.7 623.3,628.8 623.9,626.9 624.6,625.0 625.2,623.1 625.8,621.2 626.5,619.3 627.1,617.5 627.8,615.6 628.5,613.7 629.1,611.8 629.8,609.9 630.5,608.0 631.1,606.1 631.8,604.2 632.5,602.4 633.1,600.5 633.8,598.6 634.5,596.7 635.2,594.8 635.9,593.0 636.6,591.1 637.3,589.2 638.1,587.4 638.8,585.5 639.5,583.7 640.3,581.8 641.0,579.9 641.8,578.1 642.5,576.2 643.2,574.4 644.0,572.5 644.7,570.7 645.4,568.8 646.2,566.9 646.9,565.1 647.6,563.2 648.4,561.3 649.1,559.5 649.8,557.6 650.5,555.7 651.2,553.9 651.9,552.0 652.6,550.1 653.4,548.3 654.0,546.4 654.7,544.5 655.4,542.6 656.1,540.8 656.8,538.9 657.5,537.0 658.1,535.1 658.8,533.2 659.5,531.3 660.1,529.5 660.8,527.6 661.5,525.7 662.2,523.8 662.9,521.9 663.6,520.1 664.3,518.2 665.0,516.3 665.7,514.5 666.4,512.6 667.2,510.7 667.9,508.9 668.6,507.0 669.3,505.1 670.1,503.3 670.8,501.4 671.5,499.5 672.3,497.7 673.0,495.8 673.7,494.0 674.5,492.1 675.2,490.2 676.0,488.4 676.7,486.5 677.4,484.7 678.2,482.8 678.9,481.0 679.7,479.1 680.4,477.3 681.2,475.4 681.9,473.6 682.7,471.7 683.4,469.9 684.2,468.0 685.0,466.2 685.7,464.3 686.5,462.5 687.3,460.6 688.1,458.8 688.9,456.9 689.7,455.1 690.5,453.3 691.3,451.5 692.2,449.7 693.0,447.9 693.9,446.1 694.7,444.2 695.5,442.4 696.3,440.6 697.1,438.7 697.8,436.9 698.5,435.0 699.2,433.2 699.9,431.3 700.6,429.4 701.2,427.5 701.9,425.6 702.6,423.7 703.2,421.8 703.9,420.0 704.6,418.1 705.3,416.2 706.1,414.4 706.8,412.5 707.6,410.7 708.4,408.8 709.1,407.0 709.9,405.2 710.7,403.3 711.5,401.5 712.3,399.7 713.1,397.8 713.9,396.0 714.7,394.2 715.5,392.3 716.3,390.5 717.1,388.7 717.9,386.8 718.7,385.0 719.5,383.2 720.3,381.3 721.1,379.5 721.9,377.6 722.7,375.8 723.5,374.0 724.3,372.1 725.1,370.3 725.9,368.5 726.7,366.7 727.5,364.8 728.4,363.0 729.3,361.2 730.1,359.4 731.0,357.6 731.9,355.8 732.8,354.1 733.7,352.3 734.6,350.5 735.5,348.7 736.5,347.0 737.5,345.2 738.5,343.5 739.5,341.9 740.6,340.2 741.8,338.6 743.0,337.0 744.2,335.4 745.4,333.8 746.6,332.2 747.8,330.7 749.0,329.1 750.2,327.4 751.3,325.8 752.4,324.1 753.5,322.5 754.6,320.8 755.6,319.1 756.7,317.4 757.7,315.7 758.7,313.9 759.7,312.2 760.7,310.5 761.7,308.8 762.7,307.0 763.7,305.3 764.7,303.6 765.7,301.8 766.7,300.1 767.7,298.3 768.7,296.6 769.7,294.9 770.7,293.2 771.7,291.5 772.8,289.8 773.9,288.1 774.9,286.4 776.0,284.7 777.1,283.0 778.2,281.4 779.4,279.7 780.5,278.1 781.6,276.4 782.8,274.8 784.0,273.2 785.2,271.6 786.3,270.0 787.6,268.4 788.8,266.8 790.0,265.2 791.2,263.6 792.4,262.1 793.7,260.5 794.9,258.9 796.2,257.4 797.5,255.8 798.7,254.3 800.0,252.7 801.3,251.2 802.5,249.6 803.8,248.1 805.1,246.5 806.3,245.0 807.6,243.4 808.8,241.9 810.1,240.3 811.4,238.8 812.7,237.3 814.0,235.8 815.3,234.3 816.7,232.8 818.0,231.4 819.4,230.0 820.9,228.6 822.3,227.2 823.7,225.8 825.2,224.4 826.6,223.0 828.1,221.6 829.5,220.2 830.9,218.9 832.4,217.5 833.8,216.0 835.2,214.6 836.7,213.2 838.1,211.9 839.5,210.5 841.0,209.1 842.5,207.8 843.9,206.4 845.4,205.1 847.0,203.8 848.5,202.5 850.0,201.3 851.6,200.0 853.2,198.8 854.8,197.6 856.4,196.5 858.1,195.3 859.7,194.3 861.4,193.2 863.1,192.1 864.8,191.1 866.5,190.1 868.2,189.0 869.9,188.0 871.7,187.0 873.4,185.9 875.1,184.9 876.8,183.9 878.5,182.8 880.2,181.8 882.0,180.9 883.7,179.9 885.5,179.0 887.3,178.0 889.1,177.1 890.8,176.3 892.6,175.4 894.4,174.5 896.3,173.7 898.1,172.8 899.9,172.0 901.7,171.1 903.5,170.3 905.3,169.5 907.2,168.7 909.0,167.9 910.8,167.1 912.7,166.3 914.5,165.5 916.4,164.8 918.2,164.1 920.1,163.4 922.0,162.8 923.9,162.2 925.8,161.6 927.7,161.0 929.6,160.5 931.6,160.0 933.5,159.5 935.5,159.0 937.4,158.5 939.3,158.0 941.3,157.6 943.2,157.2 945.2,156.8 947.2,156.4 949.1,156.0 951.1,155.6 953.0,155.2 955.0,154.9 957.0,154.6 959.0,154.2 960.9,153.9 962.9,153.6 964.9,153.3 966.9,153.1 968.9,152.8 970.8,152.5 972.8,152.3 974.8,152.0 976.8,151.8 978.8,151.5" fill="none" stroke="#ff00ff" stroke-width="12" stroke-linejoin="round" stroke-linecap="butt"/><polyline points="474.0,1182.0 474.2,1180.0 474.4,1178.0 474.6,1176.0 474.8,1174.0 475.0,1172.1 475.3,1170.1 475.8,1168.2 476.4,1166.3 477.1,1164.4 477.8,1162.5 478.5,1160.7 479.2,1158.8 479.9,1156.9 480.6,1155.1 481.4,1153.2 482.1,1151.3 482.8,1149.5 483.5,1147.6 484.3,1145.7 485.0,1143.9 485.7,1142.0 486.5,1140.2 487.2,1138.3 488.0,1136.4 488.7,1134.6 489.4,1132.7 490.1,1130.8 490.6,1128.9 491.2,1127.0 491.7,1125.1 492.2,1123.1 492.7,1121.2 493.3,1119.3 494.0,1117.5 495.0,1115.9 496.4,1114.6 497.9,1113.4 499.6,1112.3 501.3,1111.2 503.0,1110.2 504.7,1109.2 506.5,1108.3 508.3,1107.3 510.0,1106.4 511.7,1105.4 513.3,1104.2 514.9,1103.0 516.3,1101.6 517.8,1100.2 519.2,1098.8 520.5,1097.3 521.6,1095.7 522.5,1094.0 523.4,1092.2 524.2,1090.4 525.0,1088.5 525.7,1086.7 526.3,1084.8 526.7,1082.8 527.0,1080.9 527.2,1078.9 527.4,1076.9 527.6,1074.9 527.9,1072.9 528.1,1070.9 528.3,1069.0 528.5,1067.0 528.8,1065.0 529.0,1063.0 529.3,1061.0 529.6,1059.0 529.8,1057.0 530.1,1055.1 530.4,1053.1 530.8,1051.2 531.4,1049.2 532.0,1047.4 532.8,1045.5 533.6,1043.7 534.3,1041.8 535.2,1040.0 536.2,1038.3 537.3,1036.6 538.4,1035.0 539.6,1033.4 540.7,1031.8 541.9,1030.1 543.1,1028.5 544.3,1026.9 545.5,1025.4 546.8,1023.8 548.2,1022.4 549.6,1021.0 551.0,1019.5 552.1,1018.0 553.0,1016.3 553.8,1014.5 554.4,1012.6 555.0,1010.6 555.6,1008.8 556.3,1006.9 557.0,1005.0 557.8,1003.2 558.6,1001.4 559.4,999.5 560.2,997.7 561.1,995.9 561.9,994.1 562.8,992.3 563.7,990.5 564.6,988.7 565.5,986.9 566.4,985.1 567.2,983.3 567.9,981.4 568.5,979.5 569.1,977.6 569.7,975.7 570.2,973.8 570.8,971.9 571.4,969.9 571.9,968.0 572.4,966.1 572.8,964.1 573.2,962.2 573.6,960.2 574.1,958.3 574.7,956.4 575.2,954.4 575.8,952.5 576.3,950.6 576.9,948.7 577.5,946.8 578.0,944.8 578.6,942.9 579.2,941.0 579.7,939.1 580.4,937.2 581.1,935.4 581.9,933.5 582.8,931.7 583.7,929.9 584.6,928.2 585.5,926.4 586.4,924.6 587.2,922.8 588.1,921.0 589.0,919.2 589.9,917.4 590.7,915.6 591.4,913.7 592.1,911.8 592.8,909.9 593.5,908.1 594.1,906.2 594.8,904.3 595.5,902.4 596.2,900.5 596.8,898.7 597.5,896.8 598.2,894.9 598.9,893.0 599.7,891.2 600.4,889.3 601.2,887.5 602.0,885.6 602.8,883.8 603.5,882.0 604.3,880.1 605.1,878.3 605.9,876.4 606.7,874.6 607.5,872.8 608.3,870.9 609.0,869.1 609.8,867.2 610.5,865.4 611.3,863.5 612.0,861.6 612.7,859.8 613.4,857.9 614.1,856.0 614.8,854.2 615.6,852.3 616.3,850.4 617.1,848.6 617.9,846.8 618.8,845.0 619.8,843.3 620.8,841.6 621.9,839.9 623.0,838.3 624.1,836.6 625.2,834.9 626.3,833.3 627.4,831.6 628.4,829.9 629.4,828.1 630.4,826.4 631.4,824.7 632.4,822.9 633.3,821.2 634.3,819.4 635.2,817.6 636.2,815.9 637.1,814.1 638.0,812.3 638.8,810.5 639.6,808.7 640.3,806.8 641.0,804.9 641.7,803.0 642.4,801.2 643.0,799.3 643.7,797.4 644.4,795.5 645.1,793.6 645.8,791.8 646.4,789.9 647.1,788.0 647.8,786.1 648.5,784.2 649.1,782.3 649.8,780.5 650.5,778.6 651.2,776.7 651.8,774.8 652.5,772.9 653.3,771.1 654.0,769.2 654.8,767.4 655.6,765.6 656.5,763.8 657.4,762.0 658.3,760.2 659.2,758.4 660.1,756.6 661.0,754.8 661.8,753.0 662.7,751.2 663.6,749.4 664.4,747.6 665.3,745.8 666.1,744.0 667.0,742.2 667.8,740.4 668.7,738.6 669.5,736.8 670.4,735.0 671.2,733.1 672.1,731.3 672.9,729.5 673.8,727.7 674.6,725.9 675.5,724.1 676.3,722.3 677.1,720.5 678.0,718.6 678.8,716.8 679.7,715.0 680.5,713.2 681.4,711.4 682.2,709.6 683.1,707.8 683.9,706.0 684.7,704.1 685.6,702.3 686.4,700.5 687.2,698.7 688.0,696.8 688.9,695.0 689.7,693.2 690.5,691.4 691.3,689.5 692.1,687.7 692.9,685.9 693.7,684.0 694.5,682.2 695.3,680.4 696.1,678.5 696.9,676.7 697.8,674.9 698.6,673.1 699.4,671.3 700.3,669.5 701.1,667.6 701.9,665.8 702.8,664.0 703.6,662.2 704.5,660.4 705.3,658.6 706.2,656.8 707.0,654.9 707.8,653.1 708.7,651.3 709.5,649.5 710.3,647.7 711.1,645.8 711.9,644.0 712.7,642.2 713.5,640.3 714.3,638.5 715.1,636.7 715.9,634.8 716.7,633.0 717.5,631.2 718.3,629.3 719.1,627.5 719.9,625.7 720.7,623.8 721.5,622.0 722.3,620.1 723.0,618.3 723.8,616.5 724.6,614.6 725.3,612.8 726.1,610.9 726.9,609.1 727.6,607.2 728.4,605.4 729.1,603.5 729.9,601.6 730.6,599.8 731.3,597.9 732.1,596.1 732.8,594.2 733.5,592.3 734.3,590.5 735.0,588.6 735.8,586.8 736.6,585.0 737.5,583.2 738.4,581.4 739.3,579.7 740.3,578.0 741.3,576.3 742.3,574.6 743.3,572.9 744.3,571.1 745.2,569.4 746.1,567.6 747.0,565.8 747.7,564.0 748.5,562.2 749.2,560.3 750.0,558.4 750.7,556.6 751.5,554.7 752.2,552.9 753.0,551.1 753.8,549.2 754.6,547.4 755.5,545.6 756.3,543.8 757.1,542.0 758.0,540.1 758.8,538.3 759.7,536.5 760.5,534.7 761.3,532.9 762.1,531.1 763.0,529.2 763.8,527.4 764.6,525.6 765.4,523.8 766.2,521.9 767.1,520.1 767.9,518.3 768.7,516.5 769.6,514.7 770.4,512.8 771.3,511.0 772.1,509.2 773.0,507.4 773.9,505.6 774.7,503.8 775.6,502.1 776.6,500.3 777.5,498.5 778.4,496.7 779.3,494.9 780.2,493.2 781.1,491.4 782.0,489.6 782.9,487.8 783.8,486.0 784.7,484.2 785.6,482.4 786.4,480.6 787.3,478.8 788.2,477.0 789.0,475.2 789.9,473.4 790.8,471.7 791.8,469.9 792.7,468.1 793.6,466.3 794.6,464.6 795.5,462.8 796.5,461.1 797.5,459.3 798.5,457.6 799.5,455.9 800.5,454.1 801.5,452.4 802.5,450.7 803.5,448.9 804.5,447.2 805.5,445.5 806.5,443.7 807.5,442.0 808.4,440.3 809.4,438.5 810.4,436.8 811.3,435.0 812.3,433.3 813.3,431.5 814.3,429.8 815.3,428.1 816.3,426.3 817.3,424.6 818.3,422.9 819.3,421.2 820.2,419.4 821.1,417.6 822.0,415.9 822.9,414.1 823.8,412.3 824.6,410.5 825.5,408.7 826.4,406.9 827.3,405.1 828.3,403.4 829.2,401.6 830.2,399.9 831.2,398.1 832.1,396.4 833.1,394.6 834.1,392.9 835.1,391.2 836.1,389.4 837.1,387.7 838.1,386.0 839.1,384.2 840.2,382.5 841.2,380.8 842.2,379.1 843.3,377.4 844.4,375.7 845.4,374.0 846.5,372.4 847.6,370.7 848.7,369.0 849.8,367.4 851.0,365.7 852.1,364.0 853.2,362.4 854.3,360.7 855.4,359.0 856.5,357.4 857.6,355.7 858.7,354.1 859.8,352.4 860.9,350.7 862.1,349.1 863.2,347.4 864.3,345.7 865.4,344.1 866.5,342.4 867.6,340.7 868.7,339.1 869.8,337.4 870.9,335.7 872.0,334.1 873.1,332.4 874.2,330.7 875.3,329.1 876.4,327.4 877.5,325.7 878.6,324.1 879.7,322.4 880.8,320.7 881.9,319.0 883.0,317.4 884.1,315.7 885.2,314.0 886.2,312.3 887.3,310.6 888.3,308.9 889.4,307.2 890.5,305.5 891.5,303.8 892.6,302.1 893.6,300.4 894.7,298.7 895.7,297.0 896.8,295.3 897.9,293.6 898.9,291.9 900.0,290.3 901.1,288.6 902.2,286.9 903.4,285.3 904.5,283.7 905.7,282.0 906.8,280.4 908.0,278.8 909.2,277.2 910.3,275.5 911.5,273.9 912.7,272.3 913.9,270.7 915.0,269.0 916.2,267.4 917.3,265.8 918.4,264.1 919.6,262.5 920.7,260.8 921.8,259.1 922.9,257.4 923.9,255.8 925.0,254.1 926.1,252.4 927.2,250.7 928.3,249.0 929.3,247.4 930.4,245.7 931.5,244.0 932.6,242.3 933.8,240.7 934.9,239.1 936.1,237.4 937.2,235.8 938.5,234.3 939.7,232.7 941.0,231.2 942.3,229.7 943.6,228.2 945.0,226.7 946.3,225.2 947.6,223.7 949.0,222.2 950.3,220.8 951.7,219.3 953.1,217.8 954.5,216.4 955.9,215.0 957.3,213.6 958.7,212.2 960.2,210.9 961.7,209.6 963.2,208.3 964.7,207.0 966.3,205.7 967.8,204.5 969.4,203.2 971.0,202.0 972.6,200.8 974.1,199.5 975.7,198.3 977.3,197.2 979.0,196.0 980.6,194.9 982.3,193.8 984.0,192.7 985.6,191.6 987.3,190.5 989.0,189.5 990.8,188.5 992.5,187.4 994.2,186.4 995.9,185.4 997.6,184.3 999.3,183.3 1001.0,182.3 1002.8,181.3 1004.5,180.2 1006.2,179.2 1007.9,178.2 1009.7,177.3 1011.4,176.3 1013.2,175.4 1015.0,174.4 1016.7,173.5 1018.5,172.6 1020.3,171.7 1022.1,170.8 1023.9,169.9 1025.7,169.0 1027.4,168.1 1029.2,167.2 1031.0,166.3 1032.8,165.4 1034.6,164.6 1036.4,163.7 1038.2,162.9 1040.1,162.0 1041.9,161.2 1043.7,160.5 1045.6,159.7 1047.4,159.0 1049.3,158.3 1051.2,157.6 1053.1,156.9 1054.9,156.3 1056.8,155.6 1058.7,155.0 1060.6,154.4 1062.6,153.9 1064.5,153.4 1066.4,152.9 1068.3,152.4 1070.3,151.9 1072.2,151.6 1074.2,151.2 1076.1,150.8 1078.0,150.5" fill="none" stroke="#008000" stroke-width="12" stroke-linejoin="round" stroke-linecap="round"/><path fill="#0a0a78" d="M930.1 1170.2V1181.2L919.1 1175.7ZM933.0 1159.3V1170.3L922.0 1164.8ZM935.9 1149.1V1160.1L924.9 1154.6ZM938.8 1138.3V1149.3L927.8 1143.8ZM941.7 1127.4V1138.4L930.7 1132.9ZM944.6 1115.8V1126.8L933.6 1121.3ZM947.5 1104.2V1115.2L936.5 1109.7ZM950.4 1092.6V1103.6L939.4 1098.1ZM954.1 1080.3V1091.3L943.1 1085.8ZM956.9 1067.3V1078.3L945.9 1072.8ZM959.8 1054.2V1065.2L948.8 1059.7ZM963.5 1040.4V1051.4L952.5 1045.9ZM966.4 1025.9V1036.9L955.4 1031.4ZM969.3 1011.5V1022.5L958.3 1017.0ZM972.2 996.2V1007.2L961.2 1001.7ZM975.0 980.2V991.2L964.0 985.7ZM977.4 963.0V974.0L966.4 968.5ZM980.0 945.9V956.9L969.0 951.4ZM982.5 927.1V938.1L971.5 932.6ZM986.0 908.2V919.2L975.0 913.7ZM988.5 888.6V899.6L977.5 894.1ZM991.9 867.2V878.2L980.9 872.7ZM994.5 844.9V855.9L983.5 850.4ZM997.1 821.8V832.8L986.1 827.3ZM999.6 797.8V808.8L988.6 803.3ZM1003.1 772.2V783.2L992.1 777.7ZM1006.2 746.6V757.6L995.2 752.1ZM1009.4 720.6V731.6L998.4 726.1ZM1012.9 692.1V703.1L1001.9 697.6ZM1015.3 663.7V674.7L1004.3 669.2ZM1018.9 634.0V645.0L1007.9 639.5ZM1022.4 602.0V613.0L1011.4 607.5ZM1026.0 572.4V583.4L1015.0 577.9ZM1030.7 542.7V553.7L1019.7 548.2ZM1034.3 511.9V522.9L1023.3 517.4ZM1037.8 482.2V493.2L1026.8 487.7ZM1043.8 452.6V463.6L1032.8 458.1ZM1047.5 424.0V435.0L1036.5 429.5ZM1052.5 396.7V407.7L1041.5 402.2ZM1057.5 370.1V381.1L1046.5 375.6ZM1063.5 344.8V355.8L1052.5 350.3ZM1069.0 321.6V332.6L1058.0 327.1ZM1074.5 299.1V310.1L1063.5 304.6ZM1080.5 279.1V290.1L1069.5 284.6ZM1086.5 260.4V271.4L1075.5 265.9ZM1092.5 243.7V254.7L1081.5 249.2ZM1099.0 228.9V239.9L1088.0 234.4ZM1104.5 215.5V226.5L1093.5 221.0ZM1111.9 203.4V214.4L1100.9 208.9ZM1119.0 193.9V204.9L1108.0 199.4ZM1126.1 185.0V196.0L1115.1 190.5ZM1130.7 180.4V191.4L1119.7 185.9ZM1135.3 175.8V186.8L1124.3 181.3ZM1139.9 171.2V182.2L1128.9 176.7ZM1145.1 167.4V178.4L1134.1 172.9ZM1150.5 163.8V174.8L1139.5 169.3ZM1156.2 160.6V171.6L1145.2 166.1ZM1162.0 157.6V168.6L1151.0 163.1ZM1167.8 154.7V165.7L1156.8 160.2ZM1173.6 151.8V162.8L1162.6 157.3ZM1179.8 150.0V161.0L1168.8 155.5ZM1186.1 148.2V159.2L1175.1 153.7ZM1192.3 146.4V157.4L1181.3 151.9ZM1198.6 144.7V155.7L1187.6 150.2ZM1205.1 144.1V155.1L1194.1 149.6Z"/><path fill="#8000ff" d="M1133.0 1173.5V1184.0L1142.5 1178.8ZM1133.0 1165.7V1176.2L1142.5 1170.9ZM1133.0 1157.8V1168.2L1142.5 1163.0ZM1134.0 1149.8V1160.2L1143.5 1155.0ZM1134.0 1141.8V1152.3L1143.5 1147.1ZM1134.0 1133.0V1143.5L1143.5 1138.2ZM1135.0 1123.2V1133.7L1144.5 1128.4ZM1135.0 1113.2V1123.8L1144.5 1118.5ZM1135.8 1102.3V1112.8L1145.3 1107.6ZM1136.8 1091.5V1102.0L1146.3 1096.7ZM1137.8 1079.7V1090.2L1147.3 1084.9ZM1138.8 1066.8V1077.2L1148.3 1072.0ZM1140.8 1054.0V1064.5L1150.3 1059.2ZM1142.8 1041.0V1051.5L1152.3 1046.3ZM1145.8 1026.2V1036.8L1155.2 1031.5ZM1147.8 1012.4V1022.9L1157.2 1017.6ZM1150.8 996.5V1007.0L1160.2 1001.8ZM1153.7 980.8V991.2L1163.2 986.0ZM1157.7 965.0V975.5L1167.2 970.2ZM1160.7 948.1V958.6L1170.2 953.4ZM1164.5 931.4V941.9L1174.0 936.6ZM1169.5 914.5V925.0L1179.0 919.8ZM1174.5 897.8V908.2L1184.0 903.0ZM1179.8 879.8V890.2L1189.2 885.0ZM1185.8 862.4V872.9L1195.3 867.6ZM1191.0 845.0V855.5L1200.5 850.3ZM1197.2 827.6V838.1L1206.7 832.9ZM1203.2 811.2V821.8L1212.8 816.5ZM1209.3 794.0V804.5L1218.8 799.2ZM1217.5 778.6V789.1L1227.0 783.9ZM1224.8 762.2V772.8L1234.2 767.5ZM1231.8 747.0V757.5L1241.3 752.2ZM1239.0 731.6V742.1L1248.5 736.9ZM1247.2 717.4V727.9L1256.7 722.6ZM1254.3 703.0V713.5L1263.8 708.3ZM1261.5 689.8V700.2L1271.0 695.0ZM1268.7 676.5V687.0L1278.2 681.7ZM1275.8 663.1V673.6L1285.2 668.4ZM1283.0 651.0V661.5L1292.5 656.2ZM1290.0 638.6V649.1L1299.5 643.9ZM1297.2 627.5V638.0L1306.8 632.7ZM1304.3 615.1V625.6L1313.8 620.4ZM1311.5 603.0V613.5L1321.0 608.2ZM1316.9 593.3V603.8L1326.4 598.6ZM1322.3 583.7V594.2L1331.8 589.0ZM1327.6 574.1V584.6L1337.1 579.4ZM1332.9 564.5V575.0L1342.4 569.7ZM1339.0 555.3V565.8L1348.5 560.5ZM1345.1 546.2V556.7L1354.6 551.4ZM1351.0 536.9V547.4L1360.5 542.1ZM1356.5 527.4V537.9L1366.0 532.6ZM1362.0 517.9V528.4L1371.5 523.1ZM1368.5 508.9V519.4L1378.0 514.2ZM1374.9 500.0V510.5L1384.4 505.3ZM1381.3 491.1V501.6L1390.8 496.3ZM1386.4 483.7V494.2L1395.9 488.9ZM1391.6 476.3V486.8L1401.1 481.6ZM1396.9 469.1V479.6L1406.4 474.3ZM1402.2 461.8V472.3L1411.7 467.0ZM1407.5 454.5V465.0L1417.0 459.8ZM1412.8 447.2V457.7L1422.3 452.5ZM1418.1 440.0V450.5L1427.6 445.2ZM1423.5 432.7V443.2L1433.0 438.0ZM1428.9 425.5V436.0L1438.4 430.8ZM1434.3 418.3V428.8L1443.8 423.6ZM1439.7 411.1V421.6L1449.2 416.4ZM1445.2 404.0V414.5L1454.7 409.2ZM1450.7 396.9V407.4L1460.2 402.1ZM1456.1 389.7V400.2L1465.6 395.0ZM1461.6 382.6V393.1L1471.1 387.8ZM1467.1 375.5V386.0L1476.6 380.7ZM1472.6 368.3V378.8L1482.1 373.6ZM1478.2 361.2V371.7L1487.7 366.5ZM1483.9 354.3V364.8L1493.4 359.6ZM1489.7 347.4V357.9L1499.2 352.7ZM1495.5 340.5V351.0L1505.0 345.8ZM1500.6 333.1V343.6L1510.1 338.4ZM1505.7 325.7V336.2L1515.2 331.0ZM1510.8 318.3V328.8L1520.3 323.6ZM1515.9 310.9V321.4L1525.4 316.2ZM1521.1 303.5V314.0L1530.6 308.7ZM1527.0 296.7V307.2L1536.5 302.0ZM1533.1 290.1V300.6L1542.6 295.4ZM1537.8 285.0V295.5L1547.3 290.2ZM1542.6 279.9V290.4L1552.1 285.1ZM1547.3 274.7V285.2L1556.8 280.0ZM1552.1 269.6V280.1L1561.6 274.8ZM1556.8 264.4V274.9L1566.3 269.7ZM1561.6 259.3V269.8L1571.1 264.5ZM1566.7 254.5V265.0L1576.2 259.7ZM1571.8 249.7V260.2L1581.3 255.0ZM1577.0 245.0V255.5L1586.5 250.3ZM1582.1 240.3V250.8L1591.6 245.5ZM1587.5 235.8V246.3L1597.0 241.0ZM1592.9 231.3V241.8L1602.4 236.6ZM1598.3 226.8V237.3L1607.8 232.1ZM1603.6 222.3V232.8L1613.1 227.6ZM1608.8 217.6V228.1L1618.3 222.8ZM1613.9 212.8V223.3L1623.4 218.1ZM1619.1 208.1V218.6L1628.6 213.4ZM1624.3 203.5V214.0L1633.8 208.7ZM1629.7 199.0V209.5L1639.2 204.2ZM1635.1 194.5V205.0L1644.6 199.8ZM1640.5 190.0V200.5L1650.0 195.3ZM1646.2 186.0V196.5L1655.7 191.3ZM1652.2 182.4V192.9L1661.7 187.6ZM1658.1 178.7V189.2L1667.6 184.0ZM1664.1 175.1V185.6L1673.6 180.3ZM1670.2 171.7V182.2L1679.7 177.0ZM1676.4 168.4V178.9L1685.9 173.6ZM1682.6 165.1V175.6L1692.1 170.3ZM1688.9 162.0V172.5L1698.4 167.3ZM1695.3 159.3V169.8L1704.8 164.5ZM1701.7 156.5V167.0L1711.2 161.8ZM1708.2 153.8V164.3L1717.7 159.0ZM1714.9 152.0V162.5L1724.4 157.2ZM1721.7 150.4V160.9L1731.2 155.6ZM1728.5 148.8V159.3L1738.0 154.0ZM1735.4 147.4V157.9L1744.9 152.6ZM1742.3 146.1V156.6L1751.8 151.4ZM1749.2 144.9V155.4L1758.7 150.2Z"/><g fill="#000"><rect x="231.0" y="41.5" width="8" height="1274.5"/><rect x="219.5" y="1285.5" width="1550.5" height="8"/><rect x="208" y="1182.0" width="27.0" height="7"/><rect x="208" y="976.8" width="27.0" height="7"/><rect x="208" y="768.8" width="27.0" height="7"/><rect x="208" y="558.5" width="27.0" height="7"/><rect x="208" y="352.0" width="27.0" height="7"/><rect x="208" y="144.2" width="27.0" height="7"/><rect x="219.5" y="1079.9" width="15.5" height="6"/><rect x="219.5" y="873.3" width="15.5" height="6"/><rect x="219.5" y="665.5" width="15.5" height="6"/><rect x="219.5" y="455.8" width="15.5" height="6"/><rect x="219.5" y="248.7" width="15.5" height="6"/><rect x="219.5" y="41.5" width="15.5" height="6"/><rect x="301.7" y="1289.5" width="4.5" height="14.5"/><rect x="341.9" y="1289.5" width="4.5" height="14.5"/><rect x="370.4" y="1289.5" width="4.5" height="14.5"/><rect x="392.5" y="1289.5" width="4.5" height="14.5"/><rect x="410.5" y="1289.5" width="4.5" height="14.5"/><rect x="425.8" y="1289.5" width="4.5" height="14.5"/><rect x="439.0" y="1289.5" width="4.5" height="14.5"/><rect x="450.7" y="1289.5" width="4.5" height="14.5"/><rect x="460.1" y="1289.5" width="6.5" height="27.0"/><rect x="529.8" y="1289.5" width="4.5" height="14.5"/><rect x="570.0" y="1289.5" width="4.5" height="14.5"/><rect x="598.4" y="1289.5" width="4.5" height="14.5"/><rect x="620.6" y="1289.5" width="4.5" height="14.5"/><rect x="638.6" y="1289.5" width="4.5" height="14.5"/><rect x="653.9" y="1289.5" width="4.5" height="14.5"/><rect x="667.1" y="1289.5" width="4.5" height="14.5"/><rect x="678.8" y="1289.5" width="4.5" height="14.5"/><rect x="688.2" y="1289.5" width="6.5" height="27.0"/><rect x="757.9" y="1289.5" width="4.5" height="14.5"/><rect x="798.0" y="1289.5" width="4.5" height="14.5"/><rect x="826.5" y="1289.5" width="4.5" height="14.5"/><rect x="848.6" y="1289.5" width="4.5" height="14.5"/><rect x="866.7" y="1289.5" width="4.5" height="14.5"/><rect x="882.0" y="1289.5" width="4.5" height="14.5"/><rect x="895.2" y="1289.5" width="4.5" height="14.5"/><rect x="906.9" y="1289.5" width="4.5" height="14.5"/><rect x="916.3" y="1289.5" width="6.5" height="27.0"/><rect x="985.9" y="1289.5" width="4.5" height="14.5"/><rect x="1026.1" y="1289.5" width="4.5" height="14.5"/><rect x="1054.6" y="1289.5" width="4.5" height="14.5"/><rect x="1076.7" y="1289.5" width="4.5" height="14.5"/><rect x="1094.8" y="1289.5" width="4.5" height="14.5"/><rect x="1110.0" y="1289.5" width="4.5" height="14.5"/><rect x="1123.3" y="1289.5" width="4.5" height="14.5"/><rect x="1134.9" y="1289.5" width="4.5" height="14.5"/><rect x="1144.4" y="1289.5" width="6.5" height="27.0"/><rect x="1214.0" y="1289.5" width="4.5" height="14.5"/><rect x="1254.2" y="1289.5" width="4.5" height="14.5"/><rect x="1282.7" y="1289.5" width="4.5" height="14.5"/><rect x="1304.8" y="1289.5" width="4.5" height="14.5"/><rect x="1322.9" y="1289.5" width="4.5" height="14.5"/><rect x="1338.1" y="1289.5" width="4.5" height="14.5"/><rect x="1351.3" y="1289.5" width="4.5" height="14.5"/><rect x="1363.0" y="1289.5" width="4.5" height="14.5"/><rect x="1372.5" y="1289.5" width="6.5" height="27.0"/><rect x="1442.1" y="1289.5" width="4.5" height="14.5"/><rect x="1482.3" y="1289.5" width="4.5" height="14.5"/><rect x="1510.8" y="1289.5" width="4.5" height="14.5"/><rect x="1532.9" y="1289.5" width="4.5" height="14.5"/><rect x="1550.9" y="1289.5" width="4.5" height="14.5"/><rect x="1566.2" y="1289.5" width="4.5" height="14.5"/><rect x="1579.4" y="1289.5" width="4.5" height="14.5"/><rect x="1591.1" y="1289.5" width="4.5" height="14.5"/><rect x="1601.2" y="1289.5" width="6.5" height="27.0"/><rect x="1671.2" y="1289.5" width="4.5" height="14.5"/><rect x="1711.2" y="1289.5" width="4.5" height="14.5"/><rect x="1742.2" y="1289.5" width="4.5" height="14.5"/><rect x="1764.8" y="1289.5" width="4.5" height="14.5"/></g><g font-family="Liberation Sans, Arial, sans-serif" font-size="52" fill="#000"><text transform="translate(194.8 1199.5) scale(0.97 1)" text-anchor="end">0.0</text><text transform="translate(194.8 991.0) scale(0.97 1)" text-anchor="end">0.2</text><text transform="translate(194.8 785.0) scale(0.97 1)" text-anchor="end">0.4</text><text transform="translate(194.8 574.5) scale(0.97 1)" text-anchor="end">0.6</text><text transform="translate(194.8 368.3) scale(0.97 1)" text-anchor="end">0.8</text><text transform="translate(194.8 162.0) scale(0.97 1)" text-anchor="end">1.0</text><text transform="translate(235.3 1379.5) scale(0.9 1)" text-anchor="middle" font-size="55">10<tspan font-size="32.5" dy="-28">2</tspan></text><text transform="translate(463.4 1379.5) scale(0.9 1)" text-anchor="middle" font-size="55">10<tspan font-size="32.5" dy="-28">3</tspan></text><text transform="translate(691.5 1379.5) scale(0.9 1)" text-anchor="middle" font-size="55">10<tspan font-size="32.5" dy="-28">4</tspan></text><text transform="translate(919.5 1379.5) scale(0.9 1)" text-anchor="middle" font-size="55">10<tspan font-size="32.5" dy="-28">5</tspan></text><text transform="translate(1147.6 1379.5) scale(0.9 1)" text-anchor="middle" font-size="55">10<tspan font-size="32.5" dy="-28">6</tspan></text><text transform="translate(1375.7 1379.5) scale(0.9 1)" text-anchor="middle" font-size="55">10<tspan font-size="32.5" dy="-28">7</tspan></text><text transform="translate(1604.5 1379.5) scale(0.9 1)" text-anchor="middle" font-size="55">10<tspan font-size="32.5" dy="-28">8</tspan></text></g><text x="1002" y="1476" text-anchor="middle" font-family="Liberation Sans, Arial, sans-serif" font-size="61" letter-spacing="0.75" fill="#000">Molar mass (g/mol)</text><text transform="translate(81.5 709) rotate(-90)" text-anchor="middle" font-family="Liberation Sans, Arial, sans-serif" font-size="62.5" fill="#000">Cumulative Weight Fraction</text><g font-family="Liberation Sans, Arial, sans-serif" font-size="64"><text x="602.4" y="120.0" fill="#000000">S1</text><text x="730.8" y="111.0" fill="#ff0000">S2</text><text x="844.6" y="115.0" fill="#2a00e6">S3</text><text x="974.3" y="115.0" fill="#ff0080">S4</text><text x="1097.7" y="112.5" fill="#008000">S5</text><text x="1232.2" y="108.5" fill="#000080">S6</text><text x="1631.1" y="118.5" fill="#8000ff">S7</text></g></svg>
</body></html>
